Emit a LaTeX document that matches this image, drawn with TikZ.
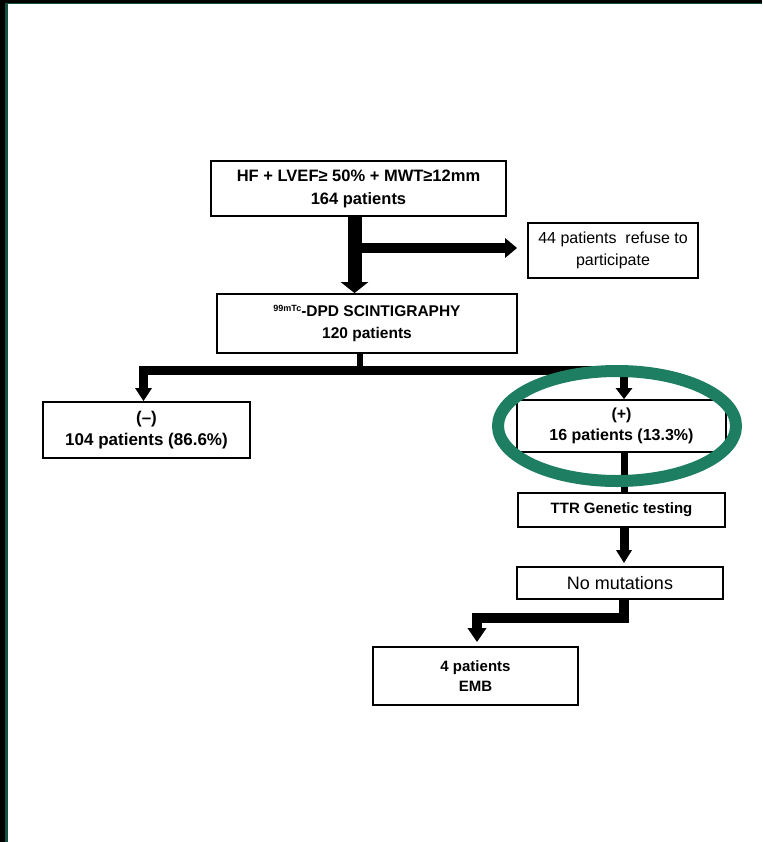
\documentclass[tikz,border=0pt]{standalone}
\usepackage{fontspec}
\setmainfont{Liberation Sans}
\usetikzlibrary{arrows.meta}
\definecolor{ovalgreen}{RGB}{29,126,97}
\definecolor{edgegreen}{RGB}{22,80,64}
\begin{document}
\begin{tikzpicture}[x=1pt,y=-1pt,
  box/.style={draw=black, line width=1.8pt, fill=white, align=center, inner sep=0pt},
  conn/.style={draw=black, line join=miter}]
\useasboundingbox (0,0) rectangle (762,842);
\fill[white] (0,0) rectangle (762,842);
% frame
\fill[black] (0,0) rectangle (762,3);
\fill[edgegreen] (0,3) rectangle (762,4.5);
\fill[black] (0,0) rectangle (5,842);
\fill[edgegreen] (5,4.5) rectangle (7.5,842);

% nodes
\node[box, minimum width=295pt, minimum height=55pt, font={\bfseries\fontsize{16.5}{23}\selectfont}] (hf) at (358.5,188.5) {HF + LVEF≥ 50\% + MWT≥12mm\\164 patients};
\node[box, minimum width=170pt, minimum height=55pt, font={\fontsize{16}{22}\selectfont}] (refuse) at (613,250.5) {44 patients\ \ refuse to\\participate};
\node[box, minimum width=300pt, minimum height=59pt, font={\bfseries\fontsize{15.5}{22}\selectfont}] (dpd) at (367,323.5) {\raisebox{5pt}{\fontsize{9}{9}\selectfont 99mTc}-DPD SCINTIGRAPHY\\120 patients};
\node[box, minimum width=207pt, minimum height=56pt, font={\bfseries\fontsize{17}{22}\selectfont}] (neg) at (146.5,430) {(–)\\104 patients (86.6\%)};
\node[box, minimum width=209pt, minimum height=52pt, font={\bfseries\fontsize{16}{21}\selectfont}] (pos) at (621.5,426) {(+)\\16 patients (13.3\%)};
\node[box, minimum width=207pt, minimum height=34pt, font={\bfseries\fontsize{15}{18}\selectfont}] (ttr) at (621.5,510) {TTR Genetic testing};
\node[box, minimum width=206pt, minimum height=32pt, font={\fontsize{18}{20}\selectfont}] (nomut) at (620,583) {No mutations};
\node[box, minimum width=205pt, minimum height=58pt, font={\bfseries\fontsize{15}{20}\selectfont}] (emb) at (475.5,676) {4 patients\\EMB};

% helper coordinates
\coordinate (mainx) at (354.5,0);
\coordinate (refy) at (0,248);
\coordinate (stemx) at (359.5,0);
\coordinate (bary) at (0,370.5);
\coordinate (negx) at (143.5,0);
\coordinate (posx) at (624,0);
\coordinate (elby) at (618,618);
\coordinate (embx) at (477,0);

% connectors
\draw[conn, line width=14pt, -{Triangle[length=11pt,width=27pt]}] (hf.south -| mainx) -- (dpd.north -| mainx);
\draw[conn, line width=10pt, -{Triangle[length=12pt,width=19pt]}, shorten >=10pt] (refy -| mainx) -- (refy -| refuse.west);
\draw[conn, line width=6pt] (dpd.south -| stemx) -- (bary -| stemx);
\draw[conn, line width=8.5pt, -{Triangle[length=13pt,width=16pt]}] (bary -| stemx) -- (bary -| negx) -- (neg.north -| negx);
\draw[conn, line width=8.5pt, -{Triangle[length=11pt,width=16pt]}] (bary -| stemx) -- (bary -| posx) -- (pos.north -| posx);
\draw[conn, line width=7pt] (pos.south -| posx) -- (ttr.north -| posx);
\draw[conn, line width=9pt, -{Triangle[length=13pt,width=15pt]}, shorten >=3pt] (ttr.south -| posx) -- (nomut.north -| posx);
\draw[conn, line width=10pt, -{Triangle[length=14pt,width=18pt]}, shorten >=4pt] (nomut.south -| posx) -- (elby -| posx) -- (elby -| embx) -- (emb.north -| embx);

% highlight oval
\draw[ovalgreen, line width=12pt] (617,426) ellipse [x radius=119pt, y radius=55pt];
\end{tikzpicture}
\end{document}
